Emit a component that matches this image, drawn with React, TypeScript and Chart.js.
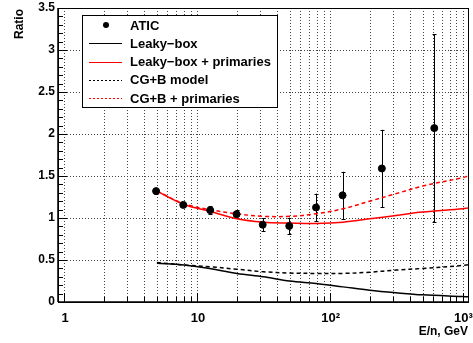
import React, { useEffect, useRef } from 'react';
import { Chart, registerables } from 'chart.js';
Chart.register(...registerables);

// ATIC measured points
const aticE = [4.93, 7.9, 12.6, 19.9, 31.3, 49.6, 78.9, 125, 247, 613];
const aticRatio = [1.32, 1.156, 1.093, 1.045, 0.92, 0.905, 1.125, 1.27, 1.59, 2.07];
const aticErr = [0.03, 0.03, 0.05, 0.05, 0.08, 0.1, 0.165, 0.28, 0.46, 1.12];

// model curves
const modelE = [5, 8, 12.5, 20, 31.6, 50, 79, 126, 200, 316, 500, 1000, 1100];
const leakyBox = [0.46, 0.44, 0.4, 0.34, 0.3, 0.25, 0.22, 0.18, 0.14, 0.11, 0.085, 0.065, 0.062];
const leakyBoxPrim = [1.32, 1.16, 1.08, 0.99, 0.95, 0.94, 0.935, 0.95, 0.99, 1.03, 1.07, 1.11, 1.12];
const cgbModel = [0.47, 0.44, 0.42, 0.39, 0.36, 0.345, 0.34, 0.34, 0.355, 0.38, 0.4, 0.435, 0.445];
const cgbPrim = [1.32, 1.17, 1.1, 1.05, 1.02, 1.02, 1.05, 1.11, 1.2, 1.29, 1.38, 1.48, 1.5];

const seriesLabels = ['ATIC', 'Leaky\u2212box', 'Leaky\u2212box + primaries', 'CG+B model', 'CG+B + primaries'];

const xTickValues = [1, 10, 100, 1000];
const xTickLabels = ['1', '10', '10\u00B2', '10\u00B3'];
const yTickValues = [0, 0.5, 1, 1.5, 2, 2.5, 3, 3.5];
const yTickLabels = ['0', '0.5', '1', '1.5', '2', '2.5', '3', '3.5'];
const xTitle = 'E/n, GeV';
const yTitle = 'Ratio';

const FONT = '"Liberation Sans", Arial, Helvetica, sans-serif';

const pts = (xs: number[], ys: number[]) => xs.map((x, i) => ({ x, y: ys[i] }));

const rootPlugin = {
  id: 'rootStyle',
  beforeDatasetsDraw(chart: any) {
    const { ctx, chartArea: a, scales } = chart;
    const xs = scales.x, ys = scales.y;
    ctx.save();
    ctx.beginPath();
    ctx.rect(a.left, a.top, a.right - a.left, a.bottom - a.top);
    ctx.clip();
    ctx.strokeStyle = '#444';
    ctx.lineWidth = 1;
    ctx.setLineDash([1, 2]);
    for (let d = 1; d <= 1000; d *= 10) {
      for (let m = 1; m <= 9; m++) {
        const v = d * m;
        if (v > 1000) break;
        const px = Math.round(xs.getPixelForValue(v)) + 0.5;
        ctx.beginPath();
        ctx.moveTo(px, a.top);
        ctx.lineTo(px, a.bottom);
        ctx.stroke();
      }
    }
    for (let v = 0.5; v < 3.5; v += 0.5) {
      const py = Math.round(ys.getPixelForValue(v)) + 0.5;
      ctx.beginPath();
      ctx.moveTo(a.left, py);
      ctx.lineTo(a.right, py);
      ctx.stroke();
    }
    ctx.setLineDash([]);
    // error bars
    ctx.strokeStyle = '#000';
    ctx.lineWidth = 1;
    aticE.forEach((e, i) => {
      const px = Math.round(xs.getPixelForValue(e)) + 0.5;
      const y1 = ys.getPixelForValue(aticRatio[i] + aticErr[i]);
      const y2 = ys.getPixelForValue(aticRatio[i] - aticErr[i]);
      ctx.beginPath();
      ctx.moveTo(px, y1);
      ctx.lineTo(px, y2);
      ctx.moveTo(px - 2, Math.round(y1) + 0.5);
      ctx.lineTo(px + 2, Math.round(y1) + 0.5);
      ctx.moveTo(px - 2, Math.round(y2) + 0.5);
      ctx.lineTo(px + 2, Math.round(y2) + 0.5);
      ctx.stroke();
    });
    ctx.restore();
  },
  afterDraw(chart: any) {
    const { ctx, chartArea: a, scales } = chart;
    const xs = scales.x, ys = scales.y;
    ctx.save();
    // frame
    ctx.strokeStyle = '#000';
    ctx.lineWidth = 1;
    ctx.strokeRect(Math.round(a.left) + 0.5, Math.round(a.top) + 0.5, Math.round(a.right - a.left), Math.round(a.bottom - a.top));
    ctx.lineWidth = 1.5;
    ctx.beginPath();
    ctx.moveTo(a.left, a.bottom);
    ctx.lineTo(a.right, a.bottom);
    ctx.moveTo(a.left, a.top);
    ctx.lineTo(a.left, a.bottom);
    ctx.stroke();
    // y ticks
    ctx.lineWidth = 1;
    for (let k = 0; k <= 35; k++) {
      const v = k / 10;
      const py = Math.round(ys.getPixelForValue(v)) + 0.5;
      const len = k % 5 === 0 ? 9 : 5;
      ctx.beginPath();
      ctx.moveTo(a.left, py);
      ctx.lineTo(a.left + len, py);
      ctx.stroke();
    }
    // x ticks
    for (let d = 1; d <= 1000; d *= 10) {
      for (let m = 1; m <= 9; m++) {
        const v = d * m;
        if (v > 1000) break;
        const px = Math.round(xs.getPixelForValue(v)) + 0.5;
        const len = m === 1 ? 9 : 5;
        ctx.beginPath();
        ctx.moveTo(px, a.bottom);
        ctx.lineTo(px, a.bottom - len);
        ctx.stroke();
      }
    }
    // tick labels
    ctx.fillStyle = '#000';
    ctx.font = `bold 12px ${FONT}`;
    ctx.textAlign = 'right';
    ctx.textBaseline = 'middle';
    yTickValues.forEach((v, i) => {
      ctx.fillText(yTickLabels[i], a.left - 3, ys.getPixelForValue(v));
    });
    ctx.font = `bold 13px ${FONT}`;
    ctx.textAlign = 'center';
    xTickValues.forEach((v, i) => {
      ctx.fillText(xTickLabels[i], xs.getPixelForValue(v) + 1, a.bottom + 16);
    });
    // axis titles
    ctx.font = `bold 12px ${FONT}`;
    ctx.textAlign = 'right';
    ctx.fillText(xTitle, 468, a.bottom + 30);
    ctx.save();
    ctx.translate(20, 9);
    ctx.rotate(-Math.PI / 2);
    ctx.textAlign = 'right';
    ctx.fillText(yTitle, 0, 0);
    ctx.restore();
    // legend
    const lx = 82.5, ly = 15.5, lw = 195, lh = 92;
    ctx.fillStyle = '#fff';
    ctx.fillRect(lx, ly, lw, lh);
    ctx.strokeStyle = '#000';
    ctx.lineWidth = 1;
    ctx.strokeRect(lx, ly, lw, lh);
    const dsets = chart.data.datasets;
    ctx.font = `bold 13px ${FONT}`;
    ctx.textAlign = 'left';
    ctx.textBaseline = 'middle';
    dsets.forEach((ds: any, i: number) => {
      const cy = 25 + i * 18.3;
      if (i === 0) {
        ctx.fillStyle = '#000';
        ctx.beginPath();
        ctx.arc(106, cy, 3, 0, Math.PI * 2);
        ctx.fill();
      } else {
        ctx.strokeStyle = ds.borderColor;
        ctx.lineWidth = 1;
        ctx.setLineDash(ds.borderDash && ds.borderDash.length ? [2, 2] : []);
        ctx.beginPath();
        ctx.moveTo(89, Math.round(cy) + 0.5);
        ctx.lineTo(122, Math.round(cy) + 0.5);
        ctx.stroke();
        ctx.setLineDash([]);
      }
      ctx.fillStyle = '#000';
      ctx.fillText(ds.label, 130, cy + 1);
    });
    ctx.restore();
  },
};

export default function App() {
  const ref = useRef<HTMLCanvasElement>(null);
  useEffect(() => {
    if (!ref.current) return;
    const lineDs = (label: string, ys: number[], color: string, dash: number[]) => ({
      type: 'line' as const,
      label,
      data: pts(modelE, ys),
      borderColor: color,
      backgroundColor: color,
      borderWidth: 1.5,
      borderDash: dash,
      pointRadius: 0,
      tension: 0.35,
      fill: false,
    });
    const chart = new Chart(ref.current, {
      type: 'line',
      data: {
        datasets: [
          {
            type: 'scatter' as any,
            label: seriesLabels[0],
            data: pts(aticE, aticRatio),
            showLine: false,
            pointRadius: 3.5,
            pointBackgroundColor: '#000',
            pointBorderColor: '#000',
            borderColor: '#000',
            backgroundColor: '#000',
          } as any,
          lineDs(seriesLabels[1], leakyBox, '#000', []),
          lineDs(seriesLabels[2], leakyBoxPrim, '#ff0000', []),
          lineDs(seriesLabels[3], cgbModel, '#000', [4, 3]),
          lineDs(seriesLabels[4], cgbPrim, '#ff0000', [4, 3]),
        ],
      },
      options: {
        animation: false,
        responsive: false,
        devicePixelRatio: 1,
        layout: { padding: { top: 8, right: 3, left: 0, bottom: 0 } },
        plugins: { legend: { display: false }, tooltip: { enabled: false } },
        scales: {
          x: {
            type: 'logarithmic',
            min: 0.9,
            max: 1100,
            ticks: { display: false },
            grid: { display: false },
            border: { display: false },
            afterFit: (s: any) => { s.height = 41; },
          },
          y: {
            type: 'linear',
            min: 0,
            max: 3.5,
            ticks: { display: false },
            grid: { display: false },
            border: { display: false },
            afterFit: (s: any) => { s.width = 58; },
          },
        },
      },
      plugins: [rootPlugin],
    });
    return () => chart.destroy();
  }, []);
  return (
    <div style={{ position: 'absolute', left: 0, top: 0, width: 473, height: 343, background: '#fff' }}>
      <canvas ref={ref} width={473} height={343} style={{ width: 473, height: 343 }} />
    </div>
  );
}
